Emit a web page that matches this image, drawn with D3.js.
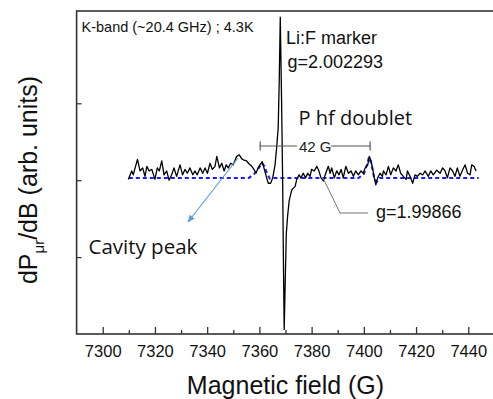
<!DOCTYPE html>
<html><head><meta charset="utf-8">
<script src="https://cdn.jsdelivr.net/npm/d3@7"></script>
<style>
html,body{margin:0;padding:0;background:#fff;}
svg{display:block;}
</style></head>
<body>
<svg id="c" width="493" height="399"></svg>
<script>
// ---- data ----
const fieldG = [7309.8,7311.1,7311.7,7313.3,7314.3,7315.3,7316.2,7316.9,7317.8,7318.8,7320.0,7320.9,7321.7,7322.6,7323.5,7324.5,7325.4,7326.4,7327.3,7328.3,7329.6,7330.6,7331.5,7332.4,7333.4,7334.5,7335.3,7336.2,7337.3,7338.3,7339.2,7340.1,7341.1,7342.0,7343.0,7343.7,7344.7,7345.6,7346.5,7347.3,7348.1,7349.0,7350.0,7351.3,7352.3,7353.2,7354.1,7355.1,7356.1,7357.1,7357.9,7358.7,7359.5,7360.2,7361.1,7361.9,7362.8,7363.4,7364.3,7365.1,7366.0,7366.6,7367.2,7367.6,7368.0,7368.5,7368.9,7369.2,7369.5,7369.9,7370.3,7370.8,7371.4,7372.0,7372.5,7373.7,7374.3,7375.2,7375.9,7376.8,7377.7,7378.5,7379.4,7380.0,7381.0,7382.0,7382.8,7383.6,7384.5,7385.4,7386.4,7387.1,7387.7,7388.7,7389.6,7390.5,7391.3,7392.1,7393.1,7394.1,7395.1,7396.0,7396.9,7397.9,7398.9,7399.8,7400.5,7401.5,7402.1,7402.8,7403.3,7404.0,7404.6,7405.3,7406.2,7407.1,7407.5,7408.5,7409.4,7410.3,7411.3,7412.3,7413.2,7414.1,7415.1,7416.2,7416.7,7417.7,7418.7,7419.6,7420.5,7421.5,7422.6,7423.4,7424.7,7425.6,7426.6,7427.9,7429.2,7430.2,7431.1,7432.0,7433.0,7434.0,7434.9,7435.8,7436.8,7437.9,7438.8,7439.7,7440.7,7441.3,7442.2,7443.0];
const signal = [0.01,0.12,0.07,0.27,0.12,0.16,0.05,0.18,0.12,0.14,0.01,0.16,0.12,0.25,0.07,0.12,0.00,0.07,0.16,0.05,0.20,0.07,0.14,0.09,0.16,0.07,0.12,0.07,0.16,0.09,0.16,0.09,0.22,0.14,0.18,0.31,0.16,0.22,0.12,0.20,0.16,0.22,0.20,0.31,0.33,0.28,0.26,0.25,0.21,0.18,0.14,0.09,0.16,0.20,0.24,0.14,0.03,-0.04,-0.04,0.03,0.20,0.42,0.68,1.29,2.12,1.03,0.01,-1.05,-1.94,-1.31,-0.70,-0.47,-0.27,-0.18,-0.12,-0.08,0.01,0.07,0.03,0.09,0.03,0.09,0.05,0.14,0.12,0.18,0.12,0.03,-0.01,0.09,0.18,0.09,0.16,0.03,0.12,0.07,0.14,0.03,0.18,0.09,0.12,0.05,0.12,0.07,0.12,0.09,0.16,0.20,0.31,0.25,0.16,0.03,-0.06,0.03,0.09,0.05,0.12,0.07,0.18,0.07,0.16,0.12,0.20,0.09,0.05,0.01,0.12,0.05,-0.04,0.07,0.05,0.09,0.07,0.12,0.05,0.12,0.07,0.13,0.09,0.16,0.12,0.03,0.16,0.12,0.05,0.16,0.05,0.14,0.20,0.09,0.07,0.20,0.18,0.12];

const fitField = [7310,7356,7358,7360,7361,7362,7363,7364,7366,7398,7400,7401,7402,7403,7404,7405,7406,7444];
const fitValue = [0.03,0.03,0.08,0.17,0.22,0.18,0.08,0.02,0.03,0.03,0.08,0.18,0.30,0.20,0.02,-0.02,0.03,0.03];

const majorTicks = [7300,7320,7340,7360,7380,7400,7420,7440];
const minorTicks = [7310,7330,7350,7370,7390,7410,7430,7450];
const yTicks = [-1,0,1];

const doubletLow = 7360.3, doubletHigh = 7402.4; // 42 G
// ---- drawing ----
const svg = d3.select('#c');
const x = d3.scaleLinear().domain([7290,7450]).range([76.6,494.4]);
const y = d3.scaleLinear().domain([-2,2.2]).range([334,11]);

const AR = '"Liberation Sans", Arial, sans-serif';
const CAL = '"Open Sans", sans-serif';

// frame
svg.append('rect').attr('x',x(7290)).attr('y',y(2.2))
  .attr('width',x(7450)-x(7290)).attr('height',y(-2)-y(2.2))
  .attr('fill','none').attr('stroke','#333').attr('stroke-width',1.6);

// x axis
const gx = svg.append('g').attr('transform',`translate(0,${y(-2)})`)
  .call(d3.axisBottom(x).tickValues(majorTicks).tickFormat(d3.format('d')).tickSizeInner(-7).tickSizeOuter(0).tickPadding(11));
gx.select('.domain').remove();
gx.selectAll('line').attr('stroke','#333').attr('stroke-width',1.3);
gx.selectAll('text').attr('font-family',AR).attr('font-size',16.5).attr('fill','#111');
const gxm = svg.append('g').attr('transform',`translate(0,${y(-2)})`)
  .call(d3.axisBottom(x).tickValues(minorTicks).tickFormat('').tickSizeInner(-4).tickSizeOuter(0));
gxm.select('.domain').remove();
gxm.selectAll('line').attr('stroke','#333').attr('stroke-width',1.3);

// y axis (no labels)
const gy = svg.append('g').attr('transform',`translate(${x(7290)},0)`)
  .call(d3.axisLeft(y).tickValues(yTicks).tickFormat('').tickSizeInner(-5).tickSizeOuter(0));
gy.select('.domain').remove();
gy.selectAll('line').attr('stroke','#333').attr('stroke-width',1.2);

// fit (blue dashed)
svg.append('path').datum(fitField.map((f,i)=>[f,fitValue[i]]))
  .attr('d',d3.line().x(d=>x(d[0])).y(d=>y(d[1])))
  .attr('fill','none').attr('stroke','#1a1aff').attr('stroke-width',2)
  .attr('stroke-dasharray','4,3');

// spectrum
svg.append('path').datum(fieldG.map((f,i)=>[f,signal[i]]))
  .attr('d',d3.line().x(d=>x(d[0])).y(d=>y(d[1])))
  .attr('fill','none').attr('stroke','#000').attr('stroke-width',1.3).attr('stroke-linejoin','round');

// 42 G bracket
const by = 146;
const bx1 = x(doubletLow), bx2 = x(doubletHigh);
const br = svg.append('g').attr('stroke','#555').attr('stroke-width',1.2);
br.append('line').attr('x1',bx1).attr('x2',297).attr('y1',by).attr('y2',by);
br.append('line').attr('x1',331).attr('x2',bx2).attr('y1',by).attr('y2',by);
br.append('line').attr('x1',bx1).attr('x2',bx1).attr('y1',by-4.5).attr('y2',by+4.5);
br.append('line').attr('x1',bx2).attr('x2',bx2).attr('y1',by-4.5).attr('y2',by+4.5);
svg.append('text').attr('x',299).attr('y',151.5).attr('font-family',AR).attr('font-size',15).attr('fill','#222').text('42 G');

// leader for g=1.99866
svg.append('polyline').attr('points','322.5,177 340,213 368,213')
  .attr('fill','none').attr('stroke','#777').attr('stroke-width',1);

// cavity arrow
svg.append('defs').append('marker').attr('id','ah').attr('viewBox','0 0 10 10')
  .attr('refX',9).attr('refY',5).attr('markerWidth',7).attr('markerHeight',7).attr('orient','auto')
  .append('path').attr('d','M0,1 L10,5 L0,9 z').attr('fill','#5b9bd5');
svg.append('line').attr('x1',238).attr('y1',158).attr('x2',188).attr('y2',222)
  .attr('stroke','#5b9bd5').attr('stroke-width',1.1).attr('marker-end','url(#ah)');

// texts
svg.append('text').attr('x',81.5).attr('y',31.5).attr('font-family',AR).attr('font-size',14.5).attr('fill','#111').text('K-band (~20.4 GHz) ; 4.3K');
svg.append('text').attr('x',286).attr('y',43.5).attr('font-family',AR).attr('font-size',18).attr('fill','#111').text('Li:F marker');
svg.append('text').attr('x',287.5).attr('y',68).attr('font-family',AR).attr('font-size',18).attr('fill','#111').text('g=2.002293');
svg.append('text').attr('x',298.5).attr('y',125).attr('font-family',CAL).attr('font-size',20).attr('fill','#111').text('P hf doublet');
svg.append('text').attr('x',88.5).attr('y',253.5).attr('font-family',CAL).attr('font-size',20.5).attr('fill','#111').text('Cavity peak');
svg.append('text').attr('x',376).attr('y',217.5).attr('font-family',AR).attr('font-size',18).attr('fill','#111').text('g=1.99866');

// axis titles
svg.append('text').attr('x',285.5).attr('y',394).attr('text-anchor','middle')
  .attr('font-family',AR).attr('font-size',25).attr('fill','#111').text('Magnetic field (G)');
const yl = svg.append('text').attr('transform','translate(37,180) rotate(-90)').attr('text-anchor','middle')
  .attr('font-family',AR).attr('font-size',25).attr('fill','#111');
yl.append('tspan').text('dP');
yl.append('tspan').attr('font-size',15).attr('dy',7).text('μr');
yl.append('tspan').attr('dy',-7).text('/dB (arb. units)');
</script>
</body></html>
